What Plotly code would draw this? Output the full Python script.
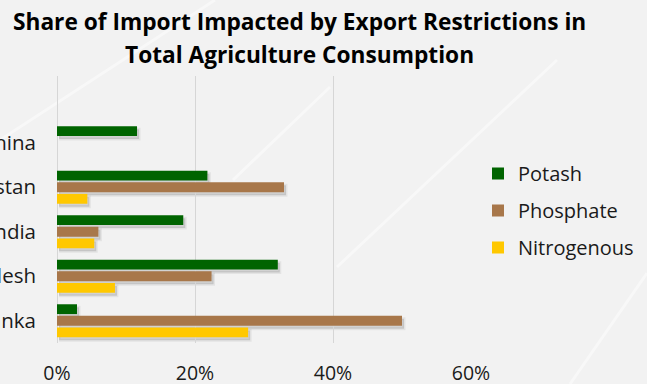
import plotly.graph_objects as go

countries = ["China", "Pakistan", "India", "Bangladesh", "Sri Lanka"]
potash = [11.6, 21.8, 18.3, 32.0, 2.9]
phosphate = [None, 32.9, 6.0, 22.4, 50.0]
nitrogenous = [None, 4.4, 5.4, 8.4, 27.7]
x_ticks = [0, 20, 40, 60]
x_tick_labels = ["0%", "20%", "40%", "60%"]
title_lines = ["Share of Import Impacted by Export Restrictions in",
               "Total Agriculture Consumption"]

series = [
    ("Potash", potash, "#006400"),
    ("Phosphate", phosphate, "#A8774A"),
    ("Nitrogenous", nitrogenous, "#FFC800"),
]

W, H = 647, 384
PX0, PX1, PY0, PY1 = 57, 471, 76, 343   # plot area in pixels
SDX, SDY = 2, 3                          # shadow offset in pixels

fig = go.Figure()
# soft drop shadows (drawn first, on a slightly shifted subplot)
for name, vals, col in series:
    fig.add_trace(go.Bar(
        y=countries, x=vals, orientation="h", xaxis="x", yaxis="y",
        marker=dict(color="rgba(0,0,0,0.13)",
                    line=dict(color="rgba(0,0,0,0.06)", width=3)),
        showlegend=False, hoverinfo="skip",
    ))
# real bars
for name, vals, col in series:
    fig.add_trace(go.Bar(
        y=countries, x=vals, name=name, orientation="h",
        xaxis="x2", yaxis="y2",
        marker=dict(color=col, line=dict(width=0)),
        legendgroup=name,
    ))

font = "Open Sans, Segoe UI, sans-serif"
hidden = dict(showgrid=False, zeroline=False, showline=False, ticks="",
              showticklabels=False, automargin=False)
fig.update_layout(
    width=W, height=H,
    margin=dict(l=0, r=0, t=0, b=0, autoexpand=False),
    paper_bgcolor="#f2f2f2",
    plot_bgcolor="rgba(0,0,0,0)",
    barmode="group",
    bargap=0.22,
    bargroupgap=0.15,
    font=dict(family=font, size=20, color="#1a1a1a"),
    xaxis=dict(domain=[(PX0 + SDX) / W, (PX1 + SDX) / W], range=[0, 60],
               anchor="y", **hidden),
    yaxis=dict(domain=[(H - PY1 - SDY) / H, (H - PY0 - SDY) / H],
               categoryorder="array", categoryarray=countries,
               range=[4.5, -1.5], anchor="x", **hidden),
    xaxis2=dict(
        domain=[PX0 / W, PX1 / W], anchor="y2",
        range=[0, 60],
        tickvals=x_ticks, ticktext=x_tick_labels,
        showgrid=True, gridcolor="#d6d6d6", gridwidth=1,
        zeroline=True, zerolinecolor="#d6d6d6", zerolinewidth=1,
        showline=False, ticks="",
        automargin=False,
        ticklabelstandoff=16,
        tickfont=dict(size=19.5, color="#1a1a1a"),
    ),
    yaxis2=dict(
        domain=[(H - PY1) / H, (H - PY0) / H], anchor="x2",
        categoryorder="array", categoryarray=countries,
        range=[4.5, -1.5],
        showgrid=False, zeroline=False, showline=False, ticks="",
        automargin=False,
        ticklabelstandoff=20,
        tickfont=dict(size=20.5, color="#1a1a1a"),
    ),
    legend=dict(
        x=478 / W, xanchor="left", y=(H - 154) / H, yanchor="top",
        bgcolor="rgba(0,0,0,0)",
        tracegroupgap=8,
        font=dict(size=20, color="#1a1a1a"),
        traceorder="grouped",
    ),
    showlegend=True,
)

# faint light streaks of the background
streaks = [((0, 140), (215, 0)), ((337, 267), (557, 60)),
           ((570, 384), (647, 273)), ((233, 180), (330, 87))]
for (xa, ya), (xb, yb) in streaks:
    fig.add_shape(type="line", xref="paper", yref="paper",
                  x0=xa / W, y0=(H - ya) / H, x1=xb / W, y1=(H - yb) / H,
                  line=dict(color="rgba(255,255,255,0.45)", width=3),
                  layer="below")

for line, yc in zip(title_lines, [22, 55]):
    fig.add_annotation(
        text="<b>" + line + "</b>", xref="paper", yref="paper",
        x=299 / W, y=(H - yc) / H, xanchor="center", yanchor="middle",
        showarrow=False, font=dict(family=font, size=22.7, color="#000000"),
    )

fig.write_html(
    "out.html",
    config={"displayModeBar": False},
    post_script="document.body.style.margin='0';document.body.style.overflow='hidden';",
)
